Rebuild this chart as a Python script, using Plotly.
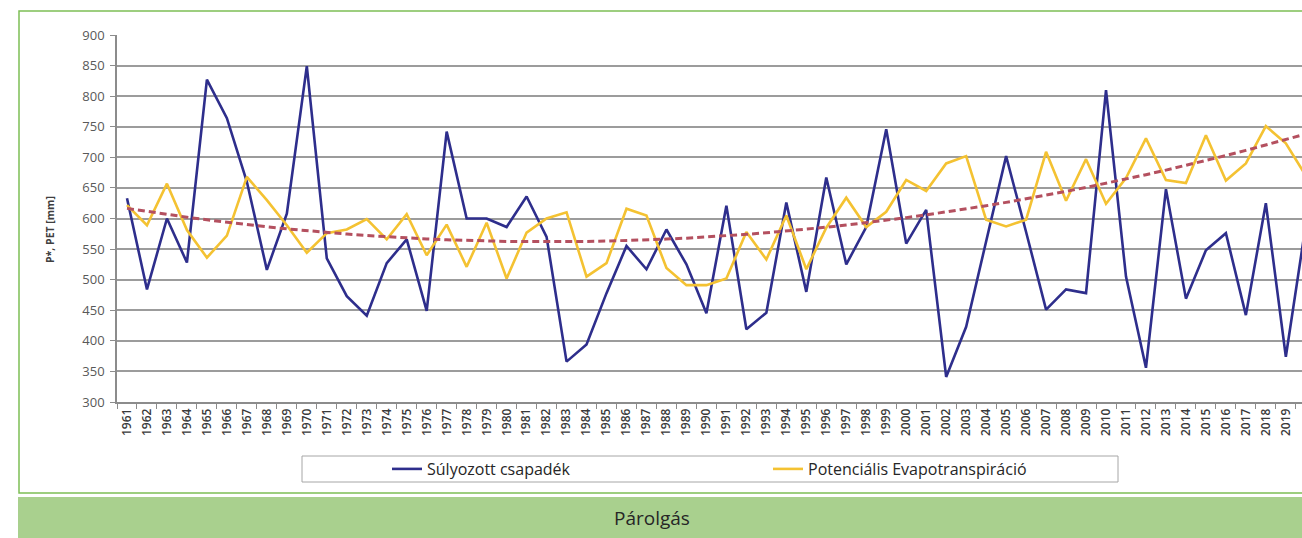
import numpy as np
import plotly.graph_objects as go

# ---- data ----
years = [str(y) for y in range(1961, 2021)]

precip = [633, 484, 600, 528, 827, 764, 660, 516, 608, 849,
          535, 473, 441, 527, 566, 449, 742, 600, 600, 586,
          636, 570, 366, 394, 478, 555, 517, 582, 525, 445,
          621, 419, 446, 626, 480, 667, 525, 586, 746, 559,
          614, 341, 423, 561, 702, 578, 451, 484, 478, 810,
          505, 356, 648, 469, 548, 576, 442, 625, 374, 590]

pet = [622, 589, 657, 581, 536, 572, 668, 630, 589, 544,
       576, 582, 599, 566, 607, 540, 590, 521, 593, 502,
       577, 600, 610, 505, 527, 616, 605, 519, 491, 491,
       502, 578, 533, 605, 517, 585, 634, 586, 611, 663,
       645, 690, 702, 598, 587, 598, 709, 629, 697, 624,
       666, 731, 663, 658, 736, 662, 690, 751, 723, 670]

y_ticks = list(range(300, 901, 50))

series_names = ["Súlyozott csapadék", "Potenciális Evapotranspiráció"]
y_title = "P*, PET [mm]"
caption = "Párolgás"

# polynomial (order 2) trendline of PET, like the spreadsheet trendline
idx = np.arange(len(pet))
trend = np.polyval(np.polyfit(idx, pet, 2), idx)

# ---- geometry (page pixels; body margin removed by post_script) ----
W, H = 1302, 538
L_page, T_page, B_page = 117, 35, 402          # plot area in page pixels
L = L_page
T = T_page
B = H - B_page
R = 0
plot_w = W - L - R
plot_h = H - T - B
cat_w = 19.98


def px(xp):
    """page x pixel -> paper x"""
    return (xp - L_page) / plot_w


def py(yp):
    """page y pixel -> paper y"""
    return (B_page - yp) / plot_h


fig = go.Figure()
fig.add_trace(go.Scatter(x=years, y=precip, mode="lines", name=series_names[0],
                         line=dict(color="#2e2e8c", width=2.6)))
fig.add_trace(go.Scatter(x=years, y=pet, mode="lines", name=series_names[1],
                         line=dict(color="#f4c232", width=2.6)))
fig.add_trace(go.Scatter(x=years, y=trend, mode="lines", showlegend=False,
                         hoverinfo="skip",
                         line=dict(color="#b4505f", width=3, dash="7px,4px")))

axis_gray = "#8c8c8c"
font_family = "Open Sans, Noto Sans, sans-serif"

fig.update_layout(
    width=W, height=H,
    margin=dict(l=L, r=R, t=T, b=B, pad=0),
    paper_bgcolor="white", plot_bgcolor="white",
    font=dict(family=font_family, color="#404040"),
    showlegend=True,
    legend=dict(orientation="h", x=px(387), y=py(469), xanchor="left", yanchor="middle",
                entrywidth=336, entrywidthmode="pixels",
                font=dict(size=16, color="#262626", family=font_family),
                bgcolor="rgba(0,0,0,0)", borderwidth=0, itemwidth=30),
    xaxis=dict(type="category", range=[-0.5, -0.5 + plot_w / cat_w],
               tickson="boundaries", ticks="outside", ticklen=5, tickcolor=axis_gray,
               tickwidth=1, showline=True, linecolor=axis_gray, linewidth=1.5,
               showgrid=False, tickangle=-90,
               tickfont=dict(size=12, color="#3a3a3a", family=font_family, weight=600)),
    yaxis=dict(range=[300, 900], tickvals=y_ticks, ticks="outside", ticklen=5,
               tickcolor=axis_gray, showline=True, linecolor=axis_gray, linewidth=1.5,
               showgrid=True, gridcolor="#9c9c9c", gridwidth=1.5, zeroline=False,
               ticklabelstandoff=3,
               tickfont=dict(size=13, color="#595959", family=font_family)),
    shapes=[
        # outer green frame
        dict(type="rect", xref="paper", yref="paper",
             x0=px(19), x1=px(1310), y0=py(493), y1=py(11),
             line=dict(color="#7dbf55", width=1.5), fillcolor="rgba(0,0,0,0)", layer="below"),
        # legend box
        dict(type="rect", xref="paper", yref="paper",
             x0=px(302), x1=px(1118), y0=py(482), y1=py(456),
             line=dict(color="#a6a6a6", width=1), fillcolor="white", layer="below"),
        # caption bar
        dict(type="rect", xref="paper", yref="paper",
             x0=px(18), x1=px(1310), y0=py(545), y1=py(497),
             line=dict(width=0), fillcolor="#a9d08e", layer="below"),
    ],
    annotations=[
        dict(text="<b>" + y_title + "</b>", xref="paper", yref="paper",
             x=px(50), y=py(230), textangle=-90, showarrow=False,
             xanchor="center", yanchor="middle",
             font=dict(size=10.5, color="#404040", family=font_family)),
        dict(text=caption, xref="paper", yref="paper",
             x=px(652), y=py(518), showarrow=False, xanchor="center", yanchor="middle",
             font=dict(size=19, color="#262626", family=font_family)),
    ],
)

fig.write_html(
    "out.html",
    config={"displayModeBar": False},
    post_script="document.body.style.margin='0';document.body.style.overflow='hidden';",
)
